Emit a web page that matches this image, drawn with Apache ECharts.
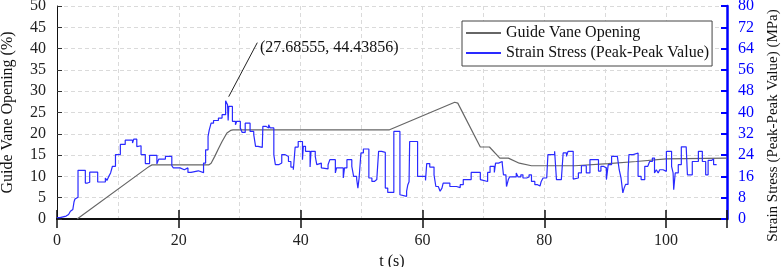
<!DOCTYPE html>
<html>
<head>
<meta charset="utf-8">
<script src="https://cdn.jsdelivr.net/npm/echarts@6/dist/echarts.min.js"></script>
<style>
html, body { margin: 0; padding: 0; background: #fff; }
#chart { width: 782px; height: 267px; }
</style>
</head>
<body>
<div id="chart"></div>
<script>
// guide vane opening (%), left axis
var vaneT = [3.3, 14.8, 15.2, 15.6, 24.9, 25.3, 25.9, 26.5, 27.1, 27.9, 28.5, 28.9, 54.5, 65.3, 65.8, 69.5, 71.0, 72.7, 74.1, 75.9, 77.9, 85.0, 90.5, 95.1, 100.0, 110.0];
var vanePct = [0, 12.0, 12.4, 12.7, 12.7, 13.1, 14.7, 16.5, 18.2, 20.2, 20.8, 20.9, 20.9, 27.4, 27.2, 16.9, 16.9, 14.3, 14.3, 13.1, 12.5, 12.5, 13.0, 13.5, 14.1, 14.3];

// strain stress peak-peak (MPa), right axis, step changes
var stressT = [0, 0.5, 1.0, 1.5, 1.9, 2.2, 2.45, 2.6, 2.8, 2.95, 3.2, 3.45, 4.65, 5.0, 5.37, 6.68, 7.94, 8.2, 8.5, 8.8, 9.1,
  9.6, 10.4, 11.2, 12.4, 12.6, 13.1, 13.4, 13.8, 14.5, 15.2, 16.4, 16.7, 17.8, 18.85, 19.1, 20.2, 20.9, 21.5, 22.0, 23.2,
  24.06, 24.4, 24.8, 25.0, 25.3, 25.7, 26.5, 27.1, 27.68555, 28.0, 28.1, 28.2, 28.8, 29.3, 29.5, 30.1, 30.4, 30.9, 31.7,
  32.3, 32.6, 33.0, 33.7, 33.8, 34.3, 34.75, 35.0, 35.6, 35.85, 36.4, 36.9, 37.4, 38.0, 38.4, 38.8, 39.1, 39.6, 40.3, 40.45,
  40.8, 41.55, 41.7, 42.4, 42.65, 42.9, 43.4, 43.7, 44.5, 44.8, 45.7, 45.9, 47.0, 47.2, 47.6, 48.4, 48.7, 49.2, 49.4, 49.6,
  49.9, 50.3, 51.2, 51.7, 52.1, 52.5, 52.8, 53.3, 53.9, 54.3, 55.3, 56.3, 56.6, 57.4, 57.6, 57.8, 57.9, 59.2, 60.5, 60.7,
  61.2, 61.9, 62.2, 62.6, 62.9, 63.2, 63.4, 64.5, 65.6, 66.2, 66.7, 68.0, 69.5, 69.8, 70.7, 71.1, 71.8, 72.0, 72.5, 73.1,
  73.3, 73.7, 73.8, 74.1, 74.3, 75.4, 75.7, 76.15, 76.5, 77.1, 77.5, 77.9, 78.45, 78.9, 79.3, 79.5, 79.8, 80.4, 80.6, 81.7,
  82.0, 82.8, 83.1, 83.65, 83.9, 84.75, 85.0, 85.6, 86.1, 86.9, 87.5, 88.9, 89.3, 89.7, 90.2, 90.5, 91.05, 92.0, 92.3, 92.6,
  92.9, 93.1, 93.35, 93.75, 93.9, 94.6, 95.4, 95.9, 96.5, 97.0, 97.3, 97.75, 98.1, 98.4, 98.7, 98.95, 99.5, 100.05, 100.9, 101.15,
  101.25, 101.5, 102.0, 102.5, 103.3, 103.5, 104.3, 105.3, 105.95, 106.5, 106.9, 107.45, 107.8, 108.3];
var stressMPa = [0.5, 0.8, 1.1, 1.7, 2.3, 2.9, 3.6, 4.3, 6.5, 7.5, 8.2, 18.3, 13.5, 13.8, 17.6, 13.9, 15.4, 14.5, 16.0, 17.3, 19.8,
  24.2, 28.0, 29.6, 28.5, 30.0, 27.2, 27.5, 24.2, 20.8, 23.9, 20.7, 22.5, 23.5, 20.0, 19.2, 18.5, 19.2, 17.5, 18.1, 17.4,
  21.0, 26.0, 31.0, 33.5, 36.0, 37.0, 37.9, 39.2, 44.43856, 42.9, 37.0, 42.3, 36.7, 35.4, 36.7, 34.2, 32.5, 36.0, 32.9,
  31.7, 27.3, 26.9, 26.7, 34.8, 34.2, 35.4, 34.2, 24.1, 20.4, 21.0, 24.2, 23.5, 21.6, 19.5, 18.5, 27.0, 29.1, 22.3, 27.3,
  25.4, 19.5, 25.4, 23.5, 20.4, 21.0, 19.2, 18.8, 20.4, 22.3, 17.3, 19.2, 15.4, 19.2, 22.3, 19.8, 16.0, 15.0, 11.6, 15.4,
  24.8, 26.3, 15.4, 14.1, 14.8, 15.4, 25.4, 25.0, 11.6, 10.0, 32.9, 9.1, 8.5, 10.5, 12.9, 14.0, 29.1, 16.0, 14.5, 20.8,
  19.5, 16.6, 12.2, 11.8, 10.4, 11.6, 13.5, 12.2, 11.8, 12.9, 14.8, 17.5, 14.8, 14.1, 17.5, 19.8, 17.5, 21.0, 21.6, 20.8,
  16.6, 16.0, 12.2, 14.8, 15.8, 17.3, 15.8, 16.6, 15.4, 15.8, 16.6, 14.1, 12.9, 12.4, 12.9, 14.1, 15.4, 16.0, 24.2, 25.4,
  14.8, 15.4, 24.8, 23.5, 25.4, 15.0, 15.4, 17.3, 20.0, 17.3, 22.3, 18.0, 19.8, 19.2, 14.8, 20.4, 23.5, 24.2, 18.5, 15.4,
  9.8, 11.5, 13.0, 17.3, 24.2, 24.8, 16.0, 14.8, 19.8, 20.4, 21.6, 22.9, 17.3, 18.5, 17.3, 18.5, 17.9, 25.4, 19.8, 17.3,
  11.0, 17.3, 20.4, 27.1, 26.5, 16.6, 21.6, 25.4, 21.6, 16.6, 22.0, 22.5, 20.4, 20.4];

var peakT = 27.68555;
var peakV = 44.43856;

var xTicks = [0, 20, 40, 60, 80, 100];

var vaneData = [];
for (var i = 0; i < vaneT.length; i++) {
	vaneData.push([vaneT[i], vanePct[i]]);
}
var stressData = [];
for (var j = 0; j < stressT.length; j++) {
	stressData.push([stressT[j], stressMPa[j]]);
}

var serif = '"Liberation Serif", "Times New Roman", serif';
var blue = '#0000ff';
var gridLine = { show: true, lineStyle: { color: '#dadada', type: [4, 3], width: 1 } };

var chart = echarts.init(document.getElementById('chart'));
var option = {
	animation: false,
	textStyle: { fontFamily: serif },
	grid: { left: 57, right: 55, top: 6, bottom: 48, outerBoundsMode: 'none', containLabel: false },
	legend: {
		left: 462,
		top: 21,
		orient: 'vertical',
		backgroundColor: '#fff',
		borderColor: '#444',
		borderWidth: 1,
		borderRadius: 0,
		padding: [4, 3, 5, 3],
		itemWidth: 35,
		itemHeight: 14,
		itemGap: 4,
		// only the line sample, no marker
		itemStyle: { opacity: 0, borderWidth: 0 },
		textStyle: { fontFamily: serif, fontSize: 16, color: '#111' },
		data: ['Guide Vane Opening', 'Strain Stress (Peak-Peak Value)']
	},
	xAxis: [ {
		type: 'value',
		position: 'bottom',
		min: 0,
		max: 110,
		interval: 10,
		name: 't (s)',
		nameLocation: 'middle',
		nameGap: 32,
		nameTextStyle: { fontFamily: serif, fontSize: 16, color: '#111' },
		axisLine: { show: true, onZero: false, lineStyle: { color: '#111', width: 2 } },
		axisTick: { show: false },
		axisLabel: {
			fontFamily: serif, fontSize: 16, color: '#222', margin: 14,
			formatter: function(v) { return xTicks.indexOf(v) >= 0 ? String(v) : ''; }
		},
		splitLine: gridLine
	}, {
		type: 'value',
		position: 'top',
		min: 0,
		max: 110,
		interval: 20,
		axisLine: { show: true, lineStyle: { color: '#111', width: 1.5 } },
		axisTick: { show: true, inside: true, length: 9, lineStyle: { color: '#111', width: 1.5 } },
		axisLabel: { show: false },
		splitLine: { show: false }
	}, {
		type: 'value',
		position: 'bottom',
		min: 0,
		max: 110,
		interval: 20,
		axisLine: { show: false },
		axisTick: { show: true, inside: true, length: 9, lineStyle: { color: '#111', width: 1.5 } },
		axisLabel: { show: false },
		splitLine: { show: false }
	} ],
	yAxis: [ {
		type: 'value',
		position: 'left',
		min: 0,
		max: 50,
		interval: 5,
		name: 'Guide Vane Opening (%)',
		nameLocation: 'middle',
		nameRotate: 90,
		nameGap: 41,
		nameTextStyle: { fontFamily: serif, fontSize: 16, color: '#111' },
		axisLine: { show: true, onZero: false, lineStyle: { color: '#111', width: 1 } },
		axisTick: { show: true, inside: true, length: 5, lineStyle: { color: '#333' } },
		axisLabel: { fontFamily: serif, fontSize: 16, color: '#222', margin: 11 },
		splitLine: gridLine
	}, {
		type: 'value',
		position: 'right',
		min: 0,
		max: 80,
		interval: 8,
		name: 'Strain Stress (Peak-Peak Value) (MPa)',
		nameLocation: 'middle',
		nameRotate: 90,
		nameGap: 39,
		nameTextStyle: { fontFamily: serif, fontSize: 15, color: '#111', padding: [0, 26, 0, 0] },
		axisLine: { show: true, onZero: false, lineStyle: { color: blue, width: 2.5 } },
		axisTick: { show: true, inside: true, length: 6, lineStyle: { color: blue, width: 2 } },
		axisLabel: { fontFamily: serif, fontSize: 16, color: blue, margin: 11 },
		splitLine: { show: false }
	} ],
	series: [ {
		name: 'Guide Vane Opening',
		type: 'line',
		xAxisIndex: 0,
		yAxisIndex: 0,
		symbol: 'none',
		lineStyle: { color: '#666', width: 1.2 },
		itemStyle: { color: '#666' },
		data: vaneData
	}, {
		name: 'Strain Stress (Peak-Peak Value)',
		type: 'line',
		xAxisIndex: 0,
		yAxisIndex: 1,
		step: 'end',
		symbol: 'none',
		lineStyle: { color: '#2a2aff', width: 1.2 },
		itemStyle: { color: '#2a2aff' },
		data: stressData,
		markLine: {
			silent: true,
			symbol: 'none',
			label: { show: false },
			lineStyle: { color: '#222', width: 1, type: 'solid' },
			data: [ [ { coord: [peakT + 0.5, peakV + 1.5] }, { coord: [peakT + 5.2, peakV + 21.8] } ] ]
		},
		markPoint: {
			silent: true,
			symbol: 'circle',
			symbolSize: 0,
			data: [ {
				coord: [peakT + 5.3, peakV + 20],
				label: {
					show: true,
					position: 'right',
					distance: 2,
					fontFamily: serif,
					fontSize: 16,
					color: '#111',
					formatter: '(' + peakT.toFixed(5) + ', ' + peakV.toFixed(5) + ')'
				}
			} ]
		}
	} ]
};
chart.setOption(option);
</script>
</body>
</html>
